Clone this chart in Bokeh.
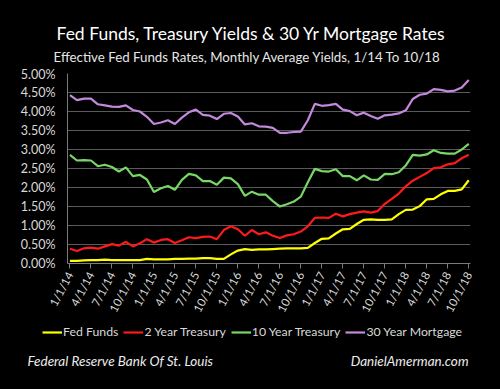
import math
from bokeh.plotting import figure
from bokeh.layouts import column
from bokeh.models import (ColumnDataSource, Range1d, FixedTicker, Legend,
                          LegendItem, Label)
from bokeh.embed import file_html
from bokeh.resources import INLINE

title_text = "Fed Funds, Treasury Yields & 30 Yr Mortgage Rates"
subtitle_text = "Effective Fed Funds Rates, Monthly Average Yields, 1/14 To 10/18"
source_left = "Federal Reserve Bank Of St. Louis"
source_right = "DanielAmerman.com"

tick_labels = ["1/1/14", "4/1/14", "7/1/14", "10/1/14",
               "1/1/15", "4/1/15", "7/1/15", "10/1/15",
               "1/1/16", "4/1/16", "7/1/16", "10/1/16",
               "1/1/17", "4/1/17", "7/1/17", "10/1/17",
               "1/1/18", "4/1/18", "7/1/18", "10/1/18"]

fed_funds = [0.07, 0.07, 0.08, 0.09, 0.09, 0.10, 0.09, 0.09, 0.09, 0.09, 0.09, 0.12,
             0.11, 0.11, 0.11, 0.12, 0.12, 0.13, 0.13, 0.14, 0.14, 0.12, 0.12, 0.24,
             0.34, 0.38, 0.36, 0.37, 0.37, 0.38, 0.39, 0.40, 0.40, 0.40, 0.41, 0.54,
             0.65, 0.66, 0.79, 0.90, 0.91, 1.04, 1.15, 1.16, 1.15, 1.15, 1.16, 1.30,
             1.41, 1.42, 1.51, 1.69, 1.70, 1.82, 1.91, 1.91, 1.95, 2.19]
two_year = [0.39, 0.33, 0.40, 0.42, 0.39, 0.45, 0.51, 0.47, 0.57, 0.45, 0.53, 0.64,
            0.55, 0.62, 0.64, 0.54, 0.61, 0.69, 0.67, 0.70, 0.71, 0.64, 0.88, 0.98,
            0.90, 0.73, 0.88, 0.77, 0.82, 0.73, 0.67, 0.74, 0.77, 0.84, 0.98, 1.20,
            1.21, 1.20, 1.31, 1.24, 1.30, 1.34, 1.37, 1.34, 1.38, 1.57, 1.70, 1.84,
            2.03, 2.18, 2.28, 2.38, 2.51, 2.53, 2.61, 2.64, 2.77, 2.86]
ten_year = [2.86, 2.71, 2.72, 2.71, 2.56, 2.60, 2.54, 2.42, 2.53, 2.30, 2.33, 2.21,
            1.88, 1.98, 2.04, 1.94, 2.20, 2.36, 2.32, 2.17, 2.17, 2.07, 2.26, 2.24,
            2.09, 1.78, 1.89, 1.81, 1.81, 1.64, 1.50, 1.56, 1.63, 1.76, 2.14, 2.49,
            2.43, 2.42, 2.48, 2.30, 2.30, 2.19, 2.32, 2.21, 2.20, 2.36, 2.35, 2.40,
            2.58, 2.86, 2.84, 2.87, 2.98, 2.91, 2.89, 2.89, 3.00, 3.15]
mortgage_30 = [4.43, 4.30, 4.34, 4.34, 4.19, 4.16, 4.13, 4.12, 4.16, 4.04, 4.00, 3.86,
               3.67, 3.71, 3.77, 3.67, 3.84, 3.98, 4.05, 3.91, 3.89, 3.80, 3.94, 3.96,
               3.87, 3.66, 3.69, 3.61, 3.60, 3.57, 3.44, 3.44, 3.46, 3.47, 3.77, 4.20,
               4.15, 4.17, 4.20, 4.05, 4.01, 3.90, 3.97, 3.88, 3.81, 3.90, 3.92, 3.95,
               4.03, 4.33, 4.44, 4.47, 4.59, 4.57, 4.53, 4.55, 4.63, 4.83]

series_keys = ["ff", "t2", "t10", "m30"]
series_names = ["Fed Funds", "2 Year Treasury", "10 Year Treasury", "30 Year Mortgage"]
series_colors = ["#ffff00", "#ff1a1a", "#77d866", "#c489dc"]
y_ticks = [0.0, 0.5, 1.0, 1.5, 2.0, 2.5, 3.0, 3.5, 4.0, 4.5, 5.0]

FONT = "Lato"
TXT = "#d9d9d9"

months = list(range(len(fed_funds)))
src = ColumnDataSource(dict(x=months, ff=fed_funds, t2=two_year, t10=ten_year, m30=mortgage_30))


def blank_panel(height, x_range, y_range):
    fig = figure(width=500, height=height, output_backend="svg", toolbar_location=None,
                 x_range=x_range, y_range=y_range,
                 min_border_left=0, min_border_right=0, min_border_top=0, min_border_bottom=0)
    fig.frame_align = False
    fig.background_fill_color = "black"
    fig.border_fill_color = "black"
    fig.outline_line_color = None
    fig.axis.visible = False
    fig.grid.visible = False
    return fig


# ---------------- header: title + subtitle ----------------
h = blank_panel(66, Range1d(0, 1), Range1d(0, 1))
h.add_layout(Label(x=56, y=33, x_units="screen", y_units="screen", text=title_text,
                   text_align="left", text_baseline="middle", text_color="white",
                   text_font=FONT, text_font_size="17.5px"))
h.add_layout(Label(x=53, y=10, x_units="screen", y_units="screen", text=subtitle_text,
                   text_align="left", text_baseline="middle", text_color="#e6e6e6",
                   text_font=FONT, text_font_size="13.3px"))

# ---------------- main chart ----------------
p = figure(width=500, height=254, output_backend="svg", toolbar_location=None,
           x_range=Range1d(-0.35, 57.25), y_range=Range1d(0, 5),
           min_border_left=67, min_border_right=30, min_border_top=7, min_border_bottom=54)
p.frame_align = False
p.background_fill_color = "black"
p.border_fill_color = "black"
p.outline_line_color = None

p.xgrid.grid_line_color = None
p.ygrid.grid_line_color = "#5a5a5a"
p.ygrid.grid_line_width = 1.2
p.ygrid.ticker = FixedTicker(ticks=y_ticks)

p.yaxis.ticker = FixedTicker(ticks=y_ticks)
p.yaxis.major_label_overrides = {t: "%.2f%%" % t for t in y_ticks}
p.yaxis.axis_line_color = "#7a7a7a"
p.yaxis.major_tick_line_color = None
p.yaxis.major_tick_out = 0
p.yaxis.major_tick_in = 0
p.yaxis.minor_tick_line_color = None
p.yaxis.major_label_text_color = TXT
p.yaxis.major_label_text_font = FONT
p.yaxis.major_label_text_font_size = "12.5px"
p.yaxis.major_label_standoff = 12

tick_pos = [i * 3 for i in range(len(tick_labels))]
p.xaxis.ticker = FixedTicker(ticks=tick_pos)
p.xaxis.major_label_overrides = {tp: lab for tp, lab in zip(tick_pos, tick_labels)}
p.xaxis.axis_line_color = "#7a7a7a"
p.xaxis.major_tick_line_color = "#7a7a7a"
p.xaxis.major_tick_out = 5
p.xaxis.major_tick_in = 0
p.xaxis.minor_tick_line_color = None
p.xaxis.major_label_orientation = math.radians(62)
p.xaxis.major_label_text_color = TXT
p.xaxis.major_label_text_font = FONT
p.xaxis.major_label_text_font_size = "11.5px"
p.xaxis.major_label_standoff = 4

for key, col in zip(series_keys, series_colors):
    p.line("x", key, source=src, line_color=col, line_width=2.2)

# ---------------- footer: legend + sources ----------------
# the same series are drawn here outside the visible ranges, only to feed the legend
f = blank_panel(69, Range1d(-600, -100), Range1d(-100, -31))
items = []
for key, name, col in zip(series_keys, series_names, series_colors):
    r = f.line("x", key, source=src, line_color=col, line_width=2.2)
    items.append(LegendItem(label=name, renderers=[r]))
legend = Legend(items=items, orientation="horizontal", location=(42, 50),
                background_fill_alpha=0, border_line_color=None,
                label_text_color=TXT, label_text_font=FONT, label_text_font_size="12.3px",
                glyph_width=20, glyph_height=14, label_standoff=1, spacing=5,
                padding=0, margin=0)
f.add_layout(legend, "center")

f.add_layout(Label(x=27, y=29, x_units="screen", y_units="screen", text=source_left,
                   text_align="left", text_baseline="middle", text_color="#ececec",
                   text_font=FONT, text_font_style="italic", text_font_size="13.5px"))
f.add_layout(Label(x=468, y=29, x_units="screen", y_units="screen", text=source_right,
                   text_align="right", text_baseline="middle", text_color="#ececec",
                   text_font=FONT, text_font_style="italic", text_font_size="13.5px"))

layout = column(h, p, f, spacing=0)
html = file_html(layout, INLINE, title="Rates")
html = html.replace("</head>", "<style>html,body{background:#000000;}</style></head>", 1)
open("out.html", "w").write(html)
